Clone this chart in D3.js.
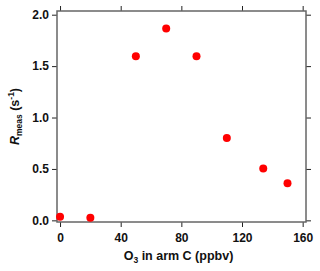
<!DOCTYPE html>
<html>
<head>
<meta charset="utf-8">
<script src="https://cdn.jsdelivr.net/npm/d3@7"></script>
<style>
  html, body { margin: 0; padding: 0; background: #fff; }
  svg { display: block; font-family: "Liberation Sans", Arial, sans-serif; }
</style>
</head>
<body>
<div id="chart"></div>
<script>
// data
const o3 = [0, 20, 50, 70, 90, 110, 134, 150];
const rMeas = [0.035, 0.025, 1.595, 1.865, 1.595, 0.8, 0.505, 0.36];
const xTicks = [0, 40, 80, 120, 160];
const yTicks = [0, 0.5, 1.0, 1.5, 2.0];

const cfg = {
  width: 320,
  height: 271,
  margin: { left: 57, right: 14, top: 11, bottom: 49 }
};

const xScale = d3.scaleLinear([-2, 162.2], [cfg.margin.left, cfg.width - cfg.margin.right]);
const yScale = d3.scaleLinear([-0.016, 2.036], [cfg.height - cfg.margin.bottom, cfg.margin.top]);

const svg = d3.select("#chart")
  .append("svg")
  .attr("width", cfg.width)
  .attr("height", cfg.height)
  .attr("viewBox", [0, 0, cfg.width, cfg.height]);

const x0 = cfg.margin.left, x1 = cfg.width - cfg.margin.right;
const y0 = cfg.margin.top, y1 = cfg.height - cfg.margin.bottom;

// axes (ticks outside, mirrored without labels)
function styleAxis(g) {
  g.select(".domain").remove();
  g.selectAll(".tick line").attr("stroke", "#222").attr("stroke-width", 1);
  g.selectAll(".tick text")
    .attr("fill", "#111")
    .style("font-size", "12px")
    .style("font-weight", "bold");
}

svg.append("g")
  .attr("transform", `translate(0, ${y1})`)
  .call(d3.axisBottom(xScale).tickValues(xTicks).tickFormat(d3.format("d")).tickSize(5).tickPadding(6))
  .call(styleAxis);

svg.append("g")
  .attr("transform", `translate(0, ${y0})`)
  .call(d3.axisTop(xScale).tickValues(xTicks).tickFormat("").tickSize(5))
  .call(styleAxis);

svg.append("g")
  .attr("transform", `translate(${x0}, 0)`)
  .call(d3.axisLeft(yScale).tickValues(yTicks).tickFormat(d3.format(".1f")).tickSize(5).tickPadding(3))
  .call(styleAxis);

svg.append("g")
  .attr("transform", `translate(${x1}, 0)`)
  .call(d3.axisRight(yScale).tickValues(yTicks).tickFormat("").tickSize(5))
  .call(styleAxis);

// frame
svg.append("rect")
  .attr("x", x0)
  .attr("y", y0)
  .attr("width", x1 - x0)
  .attr("height", y1 - y0)
  .attr("fill", "none")
  .attr("stroke", "#666")
  .attr("stroke-width", 1.5);

// points
svg.append("g")
  .selectAll("circle")
  .data(o3.map((d, i) => [d, rMeas[i]]))
  .join("circle")
  .attr("cx", d => xScale(d[0]))
  .attr("cy", d => yScale(d[1]))
  .attr("r", 4)
  .attr("fill", "#ff0000");

// x label
const xl = svg.append("text")
  .attr("x", (x0 + x1) / 2 - 3)
  .attr("y", 260)
  .attr("text-anchor", "middle")
  .style("font-size", "12.5px")
  .style("font-weight", "bold")
  .attr("fill", "#111");
xl.append("tspan").text("O");
xl.append("tspan").attr("dy", 3).style("font-size", "8.5px").text("3");
xl.append("tspan").attr("dy", -3).text(" in arm C (ppbv)");

// y label
const yl = svg.append("text")
  .attr("transform", `translate(19, ${(y0 + y1) / 2}) rotate(-90)`)
  .attr("text-anchor", "middle")
  .style("font-size", "12.5px")
  .style("font-weight", "bold")
  .attr("fill", "#111");
yl.append("tspan").style("font-style", "italic").text("R");
yl.append("tspan").attr("dy", 3).style("font-size", "8.5px").text("meas");
yl.append("tspan").attr("dy", -3).text(" (s");
yl.append("tspan").attr("dy", -5).style("font-size", "8.5px").text("-1");
yl.append("tspan").attr("dy", 5).text(")");
</script>
</body>
</html>
